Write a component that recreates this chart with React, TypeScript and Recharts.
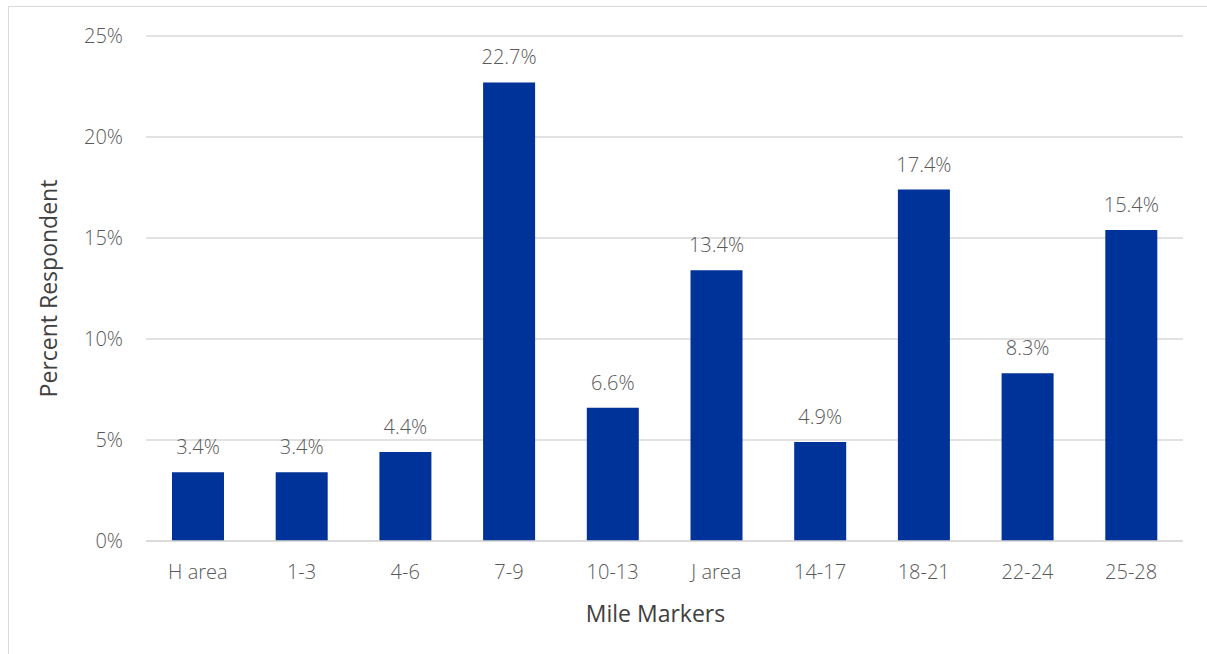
import React from 'react';
import { BarChart, Bar, XAxis, YAxis, CartesianGrid, LabelList, Label } from 'recharts';

const categories = ['H area', '1-3', '4-6', '7-9', '10-13', 'J area', '14-17', '18-21', '22-24', '25-28'];
const percentValues = [3.4, 3.4, 4.4, 22.7, 6.6, 13.4, 4.9, 17.4, 8.3, 15.4];
const yTicks = [0, 5, 10, 15, 20, 25];

const data = categories.map((c, i) => ({ name: c, value: percentValues[i] }));

const FONT = '"Open Sans", sans-serif';
const TICK_COLOR = '#595959';

export default function App() {
  return (
    <div
      style={{
        position: 'absolute',
        left: 8,
        top: 6,
        width: 1220,
        height: 670,
        border: '1px solid #d9d9d9',
        background: '#fff',
        fontFamily: FONT,
      }}
    >
      <BarChart
        width={1198}
        height={647}
        data={data}
        margin={{ top: 29, right: 24, bottom: 23, left: 17 }}
        barCategoryGap={0}
      >
        <CartesianGrid vertical={false} stroke="#d9d9d9" strokeWidth={1.3} />
        <XAxis
          dataKey="name"
          height={90}
          axisLine={{ stroke: '#d9d9d9', strokeWidth: 1.3 }}
          tickLine={false}
          tickSize={6}
          tickMargin={18}
          tick={{ fill: TICK_COLOR, fontSize: 20, fontFamily: FONT, fontWeight: 300 }}
          interval={0}
        >
          <Label
            value="Mile Markers"
            position="insideBottom"
            offset={9}
            dx={-9}
            style={{ fill: '#404040', fontSize: 23, fontFamily: FONT }}
          />
        </XAxis>
        <YAxis
          width={120}
          domain={[0, 25]}
          ticks={yTicks}
          axisLine={false}
          tickLine={false}
          tickSize={6}
          tickMargin={17}
          tickFormatter={(v: number) => `${v}%`}
          tick={{ fill: TICK_COLOR, fontSize: 20, fontFamily: FONT, fontWeight: 300 }}
        >
          <Label
            value="Percent Respondent"
            angle={-90}
            position="center"
            dx={-37}
            style={{ fill: '#404040', fontSize: 23, fontFamily: FONT, textAnchor: 'middle' }}
          />
        </YAxis>
        <Bar dataKey="value" fill="#003399" barSize={52} isAnimationActive={false}>
          <LabelList
            dataKey="value"
            position="top"
            offset={18}
            formatter={(v: number) => `${v.toFixed(1)}%`}
            style={{ fill: TICK_COLOR, fontSize: 20, fontFamily: FONT, fontWeight: 300 }}
          />
        </Bar>
      </BarChart>
    </div>
  );
}
